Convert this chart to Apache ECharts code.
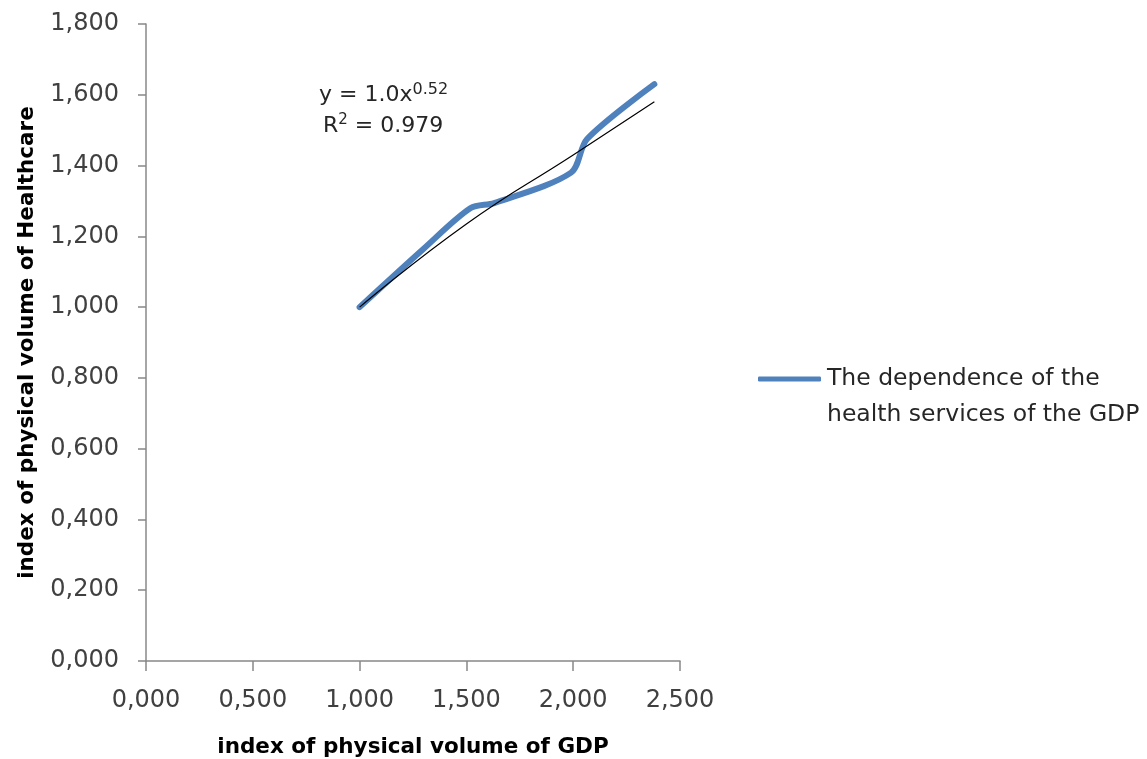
<!DOCTYPE html>
<html>
<head>
<meta charset="utf-8">
<script src="https://cdn.jsdelivr.net/npm/echarts@6/dist/echarts.min.js"></script>
<style>
  html, body { margin: 0; padding: 0; background: #fff; }
  #chart { width: 1147px; height: 759px; }
</style>
</head>
<body>
<div id="chart"></div>
<script>
// observed points (GDP index, healthcare index)
const gdpIndex = [1.0, 1.3, 1.52, 1.63, 1.99, 2.065, 2.38]
const healthIndex = [1.0, 1.165, 1.28, 1.294, 1.38, 1.475, 1.63]

// power trendline y = 1.0x^0.52
const trendX = [1.0, 1.5, 2.0, 2.38]
const trendY = [1.0, 1.235, 1.43, 1.58]

const seriesName = 'The dependence of the\nhealth services of the GDP'
const fmt = v => v.toFixed(3).replace('.', ',')
const font = 'DejaVu Sans, sans-serif'

const chart = echarts.init(document.getElementById('chart'))
chart.setOption({
  animation: false,
  grid: { left: 146, top: 24, right: 467, bottom: 98, outerBoundsMode: 'none' },
  xAxis: {
    type: 'value',
    min: 0, max: 2.5, interval: 0.5,
    name: 'index of physical volume of GDP',
    nameLocation: 'middle',
    nameGap: 75,
    nameTextStyle: { fontFamily: font, fontSize: 21.5, fontWeight: 'bold', color: '#000' },
    axisLine: { show: true, lineStyle: { color: '#888', width: 1.5 } },
    axisTick: { show: true, length: 10, lineStyle: { color: '#888', width: 1.5 } },
    axisLabel: { formatter: fmt, fontFamily: font, fontSize: 24, color: '#404040', margin: 28 },
    splitLine: { show: false }
  },
  yAxis: {
    type: 'value',
    min: 0, max: 1.8, interval: 0.2,
    name: 'index of physical volume of Healthcare',
    nameLocation: 'middle',
    nameGap: 108,
    nameTextStyle: { fontFamily: font, fontSize: 21.5, fontWeight: 'bold', color: '#000' },
    axisLine: { show: true, lineStyle: { color: '#888', width: 1.5 } },
    axisTick: { show: true, length: 8, lineStyle: { color: '#888', width: 1.5 } },
    axisLabel: { formatter: fmt, fontFamily: font, fontSize: 24, color: '#404040', margin: 27 },
    splitLine: { show: false }
  },
  legend: {
    data: [seriesName],
    left: 753,
    top: 320,
    orient: 'vertical',
    itemWidth: 63,
    itemHeight: 5,
    itemGap: 0,
    icon: 'roundRect',
    // blank first line keeps the icon level with the first text line
    formatter: name => ' \n' + name,
    textStyle: { fontFamily: font, fontSize: 23.5, color: '#262626', lineHeight: 36, padding: [0, 0, 0, 1] }
  },
  graphic: [
    {
      type: 'text',
      left: 319,
      top: 82,
      style: {
        text: 'y = 1.0x{sup|0.52}',
        fontFamily: font,
        fontSize: 22,
        fill: '#262626',
        rich: { sup: { fontFamily: font, fontSize: 16, fill: '#262626', verticalAlign: 'top', padding: [0, 0, 11, 0] } }
      }
    },
    {
      type: 'text',
      left: 323,
      top: 113,
      style: {
        text: 'R{sup|2} = 0.979',
        fontFamily: font,
        fontSize: 22,
        fill: '#262626',
        rich: { sup: { fontFamily: font, fontSize: 15, fill: '#262626', verticalAlign: 'top', padding: [0, 0, 11, 0] } }
      }
    }
  ],
  series: [
    {
      name: seriesName,
      type: 'line',
      data: gdpIndex.map((x, i) => [x, healthIndex[i]]),
      smooth: 0.3,
      symbol: 'none',
      lineStyle: { color: '#4F81BD', width: 6, cap: 'round' },
      itemStyle: { color: '#4F81BD' },
      z: 2
    },
    {
      name: 'trend',
      type: 'line',
      data: trendX.map((x, i) => [x, trendY[i]]),
      smooth: true,
      symbol: 'none',
      lineStyle: { color: '#000', width: 1.2 },
      z: 3
    }
  ]
})
</script>
</body>
</html>
